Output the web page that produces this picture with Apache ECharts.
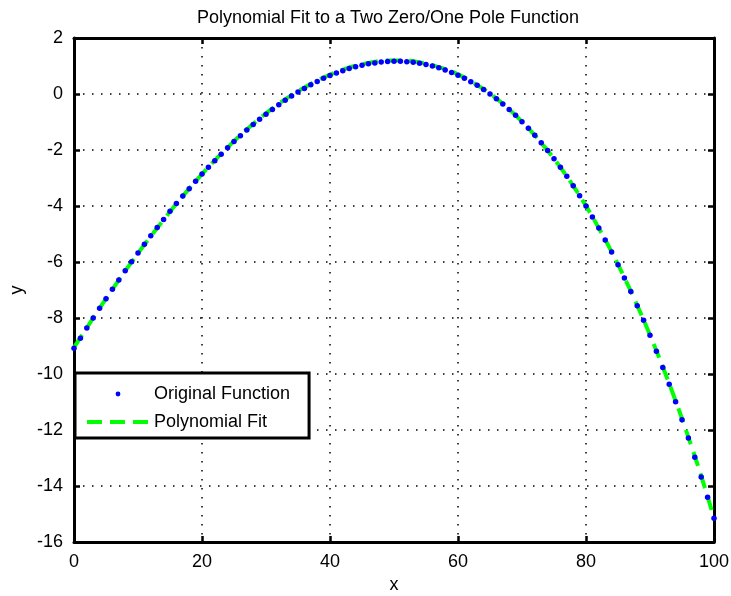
<!DOCTYPE html>
<html>
<head>
<meta charset="utf-8">
<script src="https://cdn.jsdelivr.net/npm/echarts@6/dist/echarts.min.js"></script>
<style>
html,body{margin:0;padding:0;background:#fff;}
#chart{width:731px;height:596px;}
</style>
</head>
<body>
<div id="chart"></div>
<script>
// x positions of the original function samples
var xOrig = [];
for (var i = 0; i <= 100; i++) xOrig.push(i);
// Original function values
var yOrig = [
-9.08,-8.72,-8.36,-8.00,-7.65,-7.31,-6.97,-6.64,-6.31,-5.99,
-5.68,-5.37,-5.06,-4.77,-4.48,-4.19,-3.91,-3.64,-3.38,-3.12,
-2.86,-2.62,-2.38,-2.15,-1.92,-1.70,-1.49,-1.29,-1.09,-0.90,
-0.72,-0.55,-0.38,-0.22,-0.07,0.07,0.20,0.33,0.45,0.56,
0.66,0.75,0.83,0.91,0.97,1.03,1.08,1.11,1.14,1.16,
1.17,1.17,1.15,1.13,1.10,1.05,1.00,0.94,0.86,0.77,
0.67,0.56,0.44,0.31,0.16,0.00,-0.17,-0.36,-0.55,-0.76,
-0.99,-1.22,-1.47,-1.74,-2.02,-2.31,-2.62,-2.94,-3.28,-3.63,
-4.00,-4.39,-4.79,-5.21,-5.64,-6.10,-6.57,-7.05,-7.56,-8.08,
-8.62,-9.19,-9.77,-10.37,-10.99,-11.63,-12.29,-12.97,-13.68,-14.40,
-15.15
];
// Polynomial fit samples
var xFit = [0,2,4,6,8,10,12,14,16,18,20,22,24,26,28,30,32,34,36,38,40,42,44,46,48,50,
52,54,56,58,60,62,64,66,68,70,72,74,76,78,80,82,84,86,88,90,92,94,96,98,100];
var yFit = [-9.05,-8.35,-7.65,-6.98,-6.32,-5.69,-5.08,-4.49,-3.92,-3.38,-2.86,-2.37,-1.91,
-1.47,-1.07,-0.69,-0.35,-0.04,0.23,0.48,0.69,0.87,1.01,1.11,1.18,1.20,1.19,1.13,1.03,0.89,
0.70,0.46,0.17,-0.16,-0.55,-0.99,-1.48,-2.02,-2.62,-3.28,-4.00,-4.79,-5.64,-6.56,-7.55,
-8.61,-9.75,-10.96,-12.26,-13.64,-15.15];

var titleText = 'Polynomial Fit to a Two Zero/One Pole Function';
var seriesNames = ['Original Function', 'Polynomial Fit'];

function pairs(xs, ys){ return xs.map(function(x,i){ return [x, ys[i]]; }); }

var FONT = '"Liberation Sans", Arial, Helvetica, sans-serif';
var FS = 18;
var frameLine = {show:true, onZero:false, lineStyle:{color:'#000', width:3}};
var tick = {show:true, inside:true, length:6, lineStyle:{color:'#000', width:2.5}};
var gridLine = {show:true, lineStyle:{color:'#000', width:1.5, type:[1.5,7.5]}};

var chart = echarts.init(document.getElementById('chart'), null, {renderer:'canvas'});
chart.setOption({
  animation:false,
  backgroundColor:'#fff',
  textStyle:{fontFamily:FONT, color:'#000'},
  title:{text:titleText, left:383, textAlign:'center', top:4,
    textStyle:{fontFamily:FONT, fontSize:FS, fontWeight:'normal', color:'#000'}},
  grid:{left:74, top:38, width:640, height:504, containLabel:false, outerBoundsMode:'none'},
  legend:{
    orient:'vertical', left:75, top:373,
    padding:[12,19,7,10], itemGap:10, itemWidth:62, itemHeight:6,
    backgroundColor:'#fff', borderColor:'#000', borderWidth:3, borderRadius:0,
    textStyle:{fontFamily:FONT, fontSize:FS, color:'#000'},
    data:[
      {name:seriesNames[0]},
      {name:seriesNames[1], itemStyle:{opacity:0}, lineStyle:{width:4, color:'#00ff00', type:[15,8]}}
    ]
  },
  xAxis:[
    {type:'value', min:0, max:100, interval:20, position:'bottom',
     name:'x', nameLocation:'middle', nameGap:33,
     nameTextStyle:{fontFamily:FONT, fontSize:FS, color:'#000'},
     axisLine:frameLine, axisTick:tick, splitLine:gridLine,
     axisLabel:{margin:11, fontFamily:FONT, fontSize:FS, color:'#000'}},
    {type:'value', min:0, max:100, interval:20, position:'top',
     axisLine:frameLine, axisTick:tick, splitLine:{show:false}, axisLabel:{show:false}}
  ],
  yAxis:[
    {type:'value', min:-16, max:2, interval:2, position:'left',
     name:'y', nameLocation:'middle', nameGap:47, nameRotate:90,
     nameTextStyle:{fontFamily:FONT, fontSize:FS, color:'#000'},
     axisLine:frameLine, axisTick:tick, splitLine:gridLine,
     axisLabel:{margin:11, fontFamily:FONT, fontSize:FS, color:'#000'}},
    {type:'value', min:-16, max:2, interval:2, position:'right',
     axisLine:frameLine, axisTick:tick, splitLine:{show:false}, axisLabel:{show:false}}
  ],
  series:[
    {name:seriesNames[1], type:'line', xAxisIndex:0, yAxisIndex:0,
     data:pairs(xFit, yFit), smooth:true, showSymbol:false, symbol:'none',
     lineStyle:{color:'#00ff00', width:4, type:[15,8]}, itemStyle:{color:'#00ff00'},
     z:2},
    {name:seriesNames[0], type:'line', xAxisIndex:0, yAxisIndex:0,
     data:pairs(xOrig, yOrig), symbol:'circle', symbolSize:5.5, showSymbol:true,
     lineStyle:{width:0, opacity:0}, itemStyle:{color:'#0000ff'}, z:3}
  ]
});
</script>
</body>
</html>
